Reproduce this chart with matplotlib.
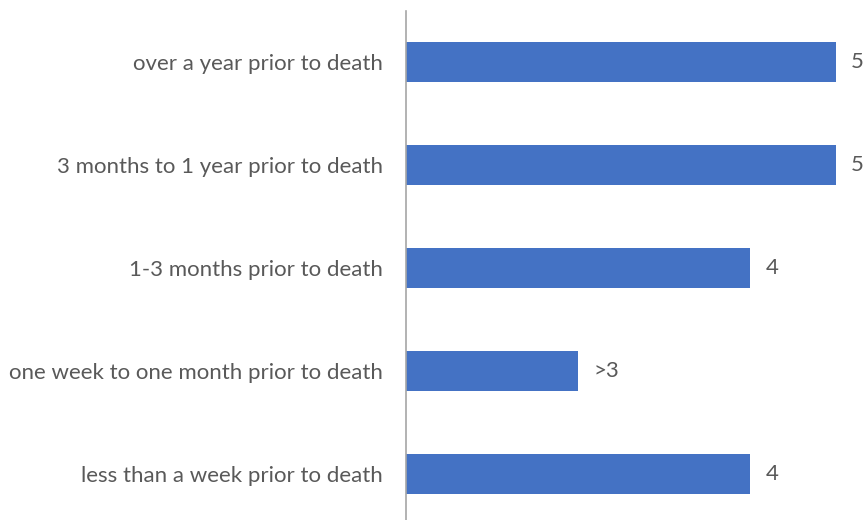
import matplotlib
matplotlib.use("Agg")
from matplotlib import pyplot as plt

categories = [
    "over a year prior to death",
    "3 months to 1 year prior to death",
    "1-3 months prior to death",
    "one week to one month prior to death",
    "less than a week prior to death",
]
values = [5, 5, 4, 2, 4]
value_labels = ["5", "5", "4", ">3", "4"]

plt.rcParams["font.family"] = ["Lato", "DejaVu Sans"]
text_color = "#595959"
fsize = 16

fig = plt.figure(figsize=(8.64, 5.2), dpi=100)
ax = fig.add_axes([406 / 864, 1 - 525.5 / 520, 430 / 864, 515 / 520])

ypos = list(range(len(categories)))
bars = ax.barh(ypos, values, height=0.39, color="#4472C4")

for bar, lab in zip(bars, value_labels):
    ax.annotate(lab, (bar.get_width(), bar.get_y() + bar.get_height() / 2),
                xytext=(11, 0), textcoords="offset points",
                ha="left", va="center", fontsize=fsize, color=text_color,
                annotation_clip=False)

ax.set_yticks(ypos)
ax.set_yticklabels(categories, fontsize=fsize, color=text_color)
ax.set_ylim(len(categories) - 0.5, -0.5)
ax.set_xlim(0, 5)
ax.set_xticks([])
ax.tick_params(axis="y", length=0, pad=16.5)

for side in ["top", "right", "bottom"]:
    ax.spines[side].set_visible(False)
ax.spines["left"].set_color("#A6A6A6")
ax.spines["left"].set_linewidth(1.2)

fig.savefig("out.png", dpi=100)
